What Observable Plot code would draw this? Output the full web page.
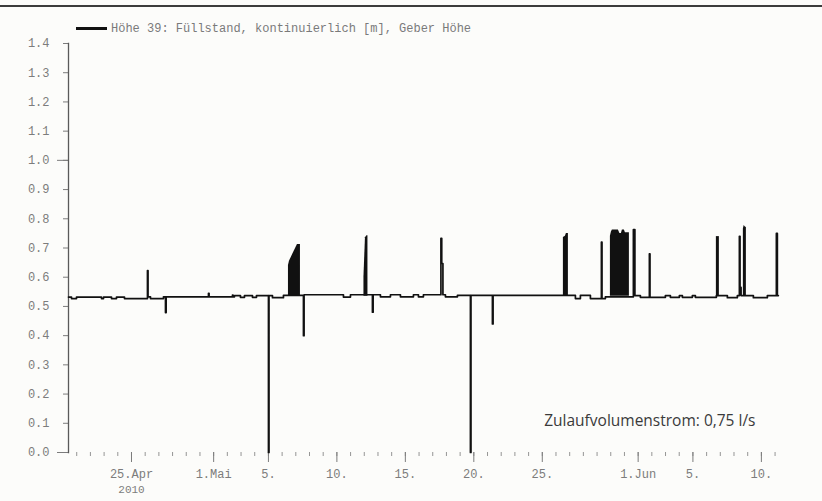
<!DOCTYPE html>
<html>
<head>
<meta charset="utf-8">
<script src="https://cdn.jsdelivr.net/npm/d3@7"></script>
<script src="https://cdn.jsdelivr.net/npm/@observablehq/plot@0.6"></script>
<style>
  html, body { margin: 0; padding: 0; background: #fcfcfa; }
  #chart { position: relative; width: 822px; height: 501px; overflow: hidden; }
  #chart svg { position: absolute; left: 0; top: 0; }
  #rule { position: absolute; left: 0; top: 5px; width: 822px; height: 2px; background: #3c3c3c; }
  #legend { position: absolute; left: 76px; top: 21px; height: 15px; display: flex; align-items: center;
            font: 12px "Liberation Mono", monospace; color: #7a7a7a; white-space: nowrap; }
  #legend .swatch { display: inline-block; width: 31px; height: 2.5px; background: #111; margin-right: 4px; }
</style>
</head>
<body>
<div id="chart">
  <div id="rule"></div>
  <div id="legend"><span class="swatch"></span><span id="legend-text"></span></div>
</div>
<script>
const seriesName = "Höhe 39: Füllstand, kontinuierlich [m], Geber Höhe";
const note = "Zulaufvolumenstrom: 0,75 l/s";

// Gauge level changes [time, level in m]; each level holds until the next entry
const trace = [
  ["04-20 09:36", 0.532], ["04-20 14:52", 0.527], ["04-20 23:37", 0.532],
  ["04-22 19:26", 0.527], ["04-22 22:57", 0.532], ["04-23 12:58", 0.527],
  ["04-23 21:43", 0.532], ["04-24 11:44", 0.527],
  ["04-26 04:00", 0.623], ["04-26 05:00", 0.533], ["04-26 09:17", 0.527],
  ["04-27 08:04", 0.533], ["04-27 11:35", 0.479], ["04-27 12:45", 0.533],
  ["04-30 14:56", 0.545], ["04-30 16:00", 0.533],
  ["05-02 09:00", 0.539], ["05-02 10:00", 0.533], ["05-02 12:29", 0.537],
  ["05-02 23:00", 0.531], ["05-03 06:01", 0.537], ["05-03 20:02", 0.531],
  ["05-04 03:03", 0.537],
  ["05-05 00:05", 0.0], ["05-05 01:00", 0.537], ["05-05 07:05", 0.530],
  ["05-06 02:21", 0.538],
  ["05-07 13:24", 0.40], ["05-07 14:30", 0.540],
  ["05-10 11:30", 0.532], ["05-10 23:46", 0.540],
  ["05-12 14:18", 0.48], ["05-12 15:30", 0.540],
  ["05-13 04:19", 0.533], ["05-13 21:52", 0.540],
  ["05-14 15:23", 0.533], ["05-15 14:10", 0.540],
  ["05-15 22:55", 0.533], ["05-16 07:40", 0.540],
  ["05-17 14:21", 0.733], ["05-17 15:45", 0.647], ["05-17 17:51", 0.540],
  ["05-17 22:15", 0.533], ["05-18 19:16", 0.538],
  ["05-19 18:03", 0.0], ["05-19 19:00", 0.538],
  ["05-21 08:36", 0.44], ["05-21 09:45", 0.538],
  ["05-27 10:02", 0.527], ["05-27 18:48", 0.538],
  ["05-28 12:20", 0.527],
  ["05-29 07:36", 0.72], ["05-29 08:40", 0.527], ["05-29 14:37", 0.533],
  ["05-31 15:40", 0.763], ["05-31 18:18", 0.537],
  ["06-01 03:56", 0.531], ["06-01 19:42", 0.68], ["06-01 20:45", 0.531],
  ["06-02 23:46", 0.537], ["06-03 08:31", 0.531],
  ["06-04 00:17", 0.537], ["06-04 05:33", 0.531],
  ["06-04 23:03", 0.537], ["06-05 04:19", 0.531],
  ["06-06 17:07", 0.537], ["06-07 12:23", 0.530], ["06-08 05:54", 0.537],
  ["06-08 09:26", 0.74], ["06-08 10:35", 0.565], ["06-08 12:23", 0.537],
  ["06-09 09:58", 0.530], ["06-10 10:29", 0.537],
  ["06-11 02:16", 0.75], ["06-11 04:00", 0.537], ["06-11 05:46", 0.537]
];

// Rapid on/off switching periods: [burst, time, upper level]
const bursts = [
  [1, "05-06 11:07", 0.640], [1, "05-06 12:52", 0.655], [1, "05-07 02:53", 0.712], [1, "05-07 08:08", 0.712],
  [2, "05-11 23:25", 0.600], [2, "05-12 02:03", 0.735], [2, "05-12 04:41", 0.742], [2, "05-12 06:26", 0.742],
  [3, "05-26 13:00", 0.736], [3, "05-26 16:31", 0.740], [3, "05-26 18:16", 0.750], [3, "05-26 21:46", 0.750],
  [4, "05-29 23:23", 0.740], [4, "05-30 01:08", 0.755], [4, "05-30 02:53", 0.762], [4, "05-30 13:24", 0.762],
  [4, "05-30 16:02", 0.750], [4, "05-30 18:39", 0.750], [4, "05-30 20:24", 0.762], [4, "05-30 23:54", 0.762],
  [4, "05-31 01:39", 0.752], [4, "05-31 08:40", 0.752],
  [5, "06-06 17:07", 0.739], [5, "06-06 22:22", 0.739],
  [6, "06-08 16:26", 0.765], [6, "06-08 17:50", 0.777], [6, "06-08 19:56", 0.772], [6, "06-08 21:42", 0.770]
];
const burstBase = 0.535;

// Axis ticks and labels
const yTicks = [0, 0.1, 0.2, 0.3, 0.4, 0.5, 0.6, 0.7, 0.8, 0.9, 1.0, 1.1, 1.2, 1.3, 1.4];
const yMajorTicks = [0, 1.0];
const xLabelDates = ["04-25", "05-01", "05-05", "05-10", "05-15", "05-20", "05-25", "06-01", "06-05", "06-10"];
const xLabels = ["25.Apr", "1.Mai", "5.", "10.", "15.", "20.", "25.", "1.Jun", "5.", "10."];
const yearDate = "04-25";
const yearLabel = "2010";
const xStart = "04-20 09:36";
const xEnd = "06-11 06:00";

const parse = d3.utcParse("%Y-%m-%d %H:%M");
const t = s => parse("2010-" + (s.length === 5 ? s + " 00:00" : s));

const majorDates = xLabelDates.map(t);
const labelByTime = new Map(majorDates.map((d, i) => [+d, xLabels[i]]));
const dayTicks = d3.utcDay.range(t("04-21"), t("06-12"));

document.getElementById("legend-text").textContent = seriesName;

const chart = Plot.plot({
  width: 822,
  height: 501,
  marginLeft: 68,
  marginRight: 44,
  marginTop: 43,
  marginBottom: 49,
  style: {
    background: "transparent",
    fontFamily: "'Liberation Mono', monospace",
    fontSize: "12px",
    color: "#7c7c7c"
  },
  x: { type: "utc", domain: [t(xStart), t(xEnd)] },
  y: { domain: [0, 1.4] },
  marks: [
    Plot.axisY(yTicks, { tickSize: 5, tickPadding: 14, tickFormat: d => d.toFixed(1) }),
    Plot.axisY(yMajorTicks, { tickSize: 11, tickFormat: () => "" }),
    Plot.axisX(dayTicks, { tickSize: 4, tickFormat: () => "", strokeOpacity: 0.8 }),
    Plot.axisX(majorDates, { tickSize: 10, tickPadding: 7, tickFormat: d => labelByTime.get(+d) }),
    Plot.axisX([t(yearDate)], { tickSize: 0, tickPadding: 33, tickFormat: () => yearLabel, fontSize: 11 }),
    Plot.frame({ anchor: "left", stroke: "#5a5a5a", strokeWidth: 1.3 }),
    Plot.areaY(bursts, {
      x: d => t(d[1]), y1: burstBase, y2: d => d[2], z: d => d[0],
      fill: "#111", curve: "linear"
    }),
    Plot.line(trace, {
      x: d => t(d[0]), y: d => d[1],
      curve: "step-after", stroke: "#111", strokeWidth: 1.7
    }),
    Plot.text([note], {
      frameAnchor: "bottom-right", dx: -23, dy: -27,
      textAnchor: "end", lineAnchor: "bottom",
      fontFamily: "'Open Sans', sans-serif", fontSize: 15.5, fill: "#3a3a3a"
    })
  ]
});

document.getElementById("chart").prepend(chart);
</script>
</body>
</html>
